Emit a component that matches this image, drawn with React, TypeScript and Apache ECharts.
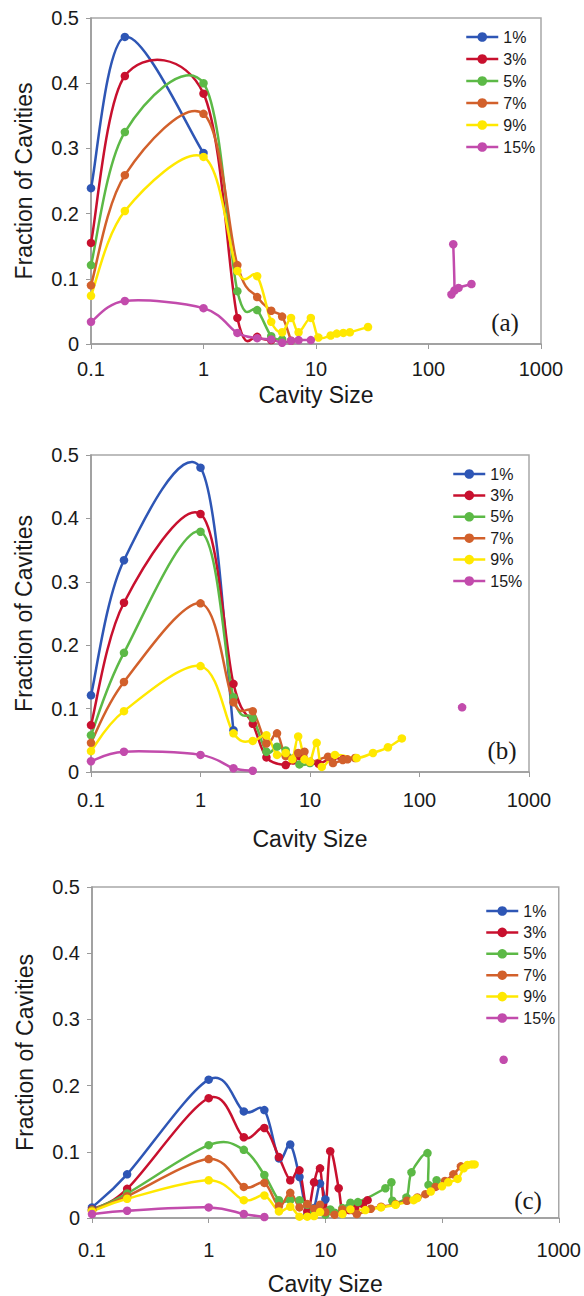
import React, { useEffect, useRef } from 'react';
import * as echarts from 'echarts';

const seriesNames = ['1%', '3%', '5%', '7%', '9%', '15%'];
const colors = ['#2E56B5', '#C8102E', '#5CB946', '#D2602B', '#FFE800', '#C24BAC'];
const xTickLabels = ['0.1', '1', '10', '100', '1000'];
const yTickLabels = ['0', '0.1', '0.2', '0.3', '0.4', '0.5'];
const panelLetters = ['(a)', '(b)', '(c)'];
const xTitle = 'Cavity Size';
const yTitle = 'Fraction of Cavities';

// Panel (a)
const a1 = [[0.1, 0.239], [0.2, 0.471], [1, 0.293]];
const a3 = [[0.1, 0.155], [0.2, 0.411], [1, 0.384], [2, 0.04], [3, 0.011], [4, 0.006]];
const a5 = [[0.1, 0.121], [0.2, 0.325], [1, 0.4], [2, 0.081], [3, 0.052], [4, 0.012], [5, 0.007]];
const a7 = [[0.1, 0.09], [0.2, 0.259], [1, 0.353], [2, 0.121], [3, 0.072], [4, 0.051], [5, 0.042], [6, 0.005]];
const a9 = [[0.1, 0.074], [0.2, 0.204], [1, 0.287], [2, 0.112], [3, 0.104], [4, 0.034], [5, 0.018], [6, 0.04], [7, 0.018], [9, 0.04], [10.5, 0.01], [13.5, 0.013], [15.3, 0.016], [17.5, 0.017], [20, 0.018], [29, 0.026]];
const a15 = [[0.1, 0.034], [0.2, 0.066], [1, 0.055], [2, 0.017], [3, 0.009], [4, 0.007], [5, 0.002], [6, 0.005], [7, 0.006], [9, 0.006], [20, '-'], [166, 0.153], [170, 0.082], [160, 0.076], [185, 0.086], [241, 0.092]];

// Panel (b)
const b1 = [[0.1, 0.121], [0.2, 0.334], [1, 0.48], [2, 0.066]];
const b3 = [[0.1, 0.074], [0.2, 0.267], [1, 0.407], [2, 0.139], [3, 0.076], [4, 0.023], [6, 0.011], [7, 0.018], [8, 0.025], [10, 0.015], [12, 0.013], [16, 0.022], [20, 0.02]];
const b5 = [[0.1, 0.058], [0.2, 0.188], [1, 0.379], [2, 0.118], [3, 0.085], [4, 0.032], [5, 0.04], [6, 0.034], [8, 0.012], [10, 0.014]];
const b7 = [[0.1, 0.046], [0.2, 0.142], [1, 0.266], [2, 0.11], [3, 0.096], [4, 0.045], [5, 0.061], [6, 0.025], [7.8, 0.03], [8.9, 0.032], [10, 0.016], [14.6, 0.024], [16.2, 0.014], [19.9, 0.019], [22, 0.02], [25.8, 0.022]];
const b9 = [[0.1, 0.033], [0.2, 0.096], [1, 0.167], [2, 0.061], [3, 0.049], [4, 0.058], [5, 0.027], [6, 0.03], [6.9, 0.02], [7.8, 0.056], [8.9, 0.02], [10, 0.016], [11.5, 0.046], [12.8, 0.008], [16.9, 0.027], [26.7, 0.022], [37.6, 0.03], [51.5, 0.039], [69, 0.053]];
const b15 = [[0.1, 0.017], [0.2, 0.032], [1, 0.027], [2, 0.006], [3, 0.002], [20, '-'], [245, 0.102]];

// Panel (c)
const c1 = [[0.1, 0.016], [0.2, 0.066], [1, 0.209], [2, 0.161], [3, 0.163], [4, 0.09], [5, 0.111], [6, 0.062], [7, 0.005], [8, 0.015], [9, 0.052], [10, 0.028]];
const c3 = [[0.1, 0.013], [0.2, 0.044], [1, 0.181], [2, 0.122], [3, 0.136], [4, 0.092], [5, 0.057], [6, 0.072], [7, 0.01], [8, 0.054], [9, 0.075], [10, 0.012], [11, 0.101], [13, 0.045], [14, 0.008], [16, 0.012], [18, 0.016], [21, 0.021], [23, 0.027]];
const c5 = [[0.1, 0.012], [0.2, 0.037], [1, 0.11], [2, 0.103], [3, 0.065], [4, 0.027], [5, 0.027], [6, 0.027], [7, 0.02], [8, 0.01], [10, 0.005], [11, 0.013], [12, 0.008], [14, 0.015], [16.4, 0.023], [19, 0.024], [32.7, 0.045], [36.8, 0.054], [37.5, 0.026], [49.5, 0.031], [54.7, 0.069], [75, 0.098], [76.5, 0.05], [89.8, 0.057]];
const c7 = [[0.1, 0.011], [0.2, 0.033], [1, 0.089], [2, 0.047], [3, 0.053], [4, 0.018], [5, 0.038], [6, 0.016], [7, 0.021], [8, 0.014], [9, 0.02], [10, 0.009], [12, 0.005], [14, 0.013], [18.6, 0.006], [24.5, 0.014], [30, 0.017], [40, 0.021], [50, 0.026], [61.5, 0.031], [72, 0.036], [88, 0.047], [106, 0.056], [125, 0.066], [145, 0.078]];
const c9 = [[0.1, 0.01], [0.2, 0.029], [1, 0.057], [2, 0.027], [3, 0.034], [4, 0.01], [5, 0.017], [6, 0.002], [7, 0.002], [8, 0.003], [9, 0.009], [14, 0.006], [16.4, 0.013], [22, 0.012], [30, 0.016], [40, 0.02], [57, 0.027], [61, 0.03], [80, 0.04], [100, 0.048], [113, 0.054], [136, 0.059], [153, 0.075], [165, 0.08], [180, 0.081], [190, 0.081]];
const c15 = [[0.1, 0.006], [0.2, 0.011], [1, 0.016], [2, 0.006], [3, 0.0015], [20, '-'], [337, 0.239]];

const panelData = [
  [a1, a3, a5, a7, a9, a15],
  [b1, b3, b5, b7, b9, b15],
  [c1, c3, c5, c7, c9, c15],
];

const FONT = '"Liberation Sans", Arial, Helvetica, sans-serif';
const SERIF = '"Liberation Serif", "Times New Roman", serif';
const TEXT = '#1a1a1a';
const LINE_W = 2.5;

const layouts = [
  { left: 91, top: 18, right: 43, height: 326, labelMargin: 15, nameGap: 39, legendLeft: 465, legendTop: 29, legendGap: 6, letter: [505, 322] },
  { left: 91, top: 455, right: 55, height: 317, labelMargin: 18, nameGap: 55, legendLeft: 452, legendTop: 466, legendGap: 5.4, letter: [502, 750] },
  { left: 92, top: 887, right: 23, height: 332, labelMargin: 22, nameGap: 54, legendLeft: 485, legendTop: 903, legendGap: 5.4, letter: [528, 1200] },
];

// Excel-style (Catmull-Rom) smoothed segment between point i and i+1
const makeRenderer = (pts: any[], color: string) => (params: any, api: any) => {
  const i = params.dataIndex;
  const valid = (k: number) => k >= 0 && k < pts.length && typeof pts[k][1] === 'number';
  if (!valid(i) || !valid(i + 1)) return null;
  const p1 = api.coord(pts[i]);
  const p2 = api.coord(pts[i + 1]);
  const p0 = valid(i - 1) ? api.coord(pts[i - 1]) : p1;
  const p3 = valid(i + 2) ? api.coord(pts[i + 2]) : p2;
  const t = 1 / 6;
  return {
    type: 'bezierCurve',
    shape: {
      x1: p1[0], y1: p1[1], x2: p2[0], y2: p2[1],
      cpx1: p1[0] + (p2[0] - p0[0]) * t, cpy1: p1[1] + (p2[1] - p0[1]) * t,
      cpx2: p2[0] - (p3[0] - p1[0]) * t, cpy2: p2[1] - (p3[1] - p1[1]) * t,
    },
    style: { stroke: color, lineWidth: LINE_W, fill: 'none', lineCap: 'round' },
  };
};

export default function App() {
  const ref = useRef<HTMLDivElement>(null);
  useEffect(() => {
    if (!ref.current) return;
    const chart = echarts.init(ref.current, null, { renderer: 'svg' });
    const grids: any[] = [];
    const xAxes: any[] = [];
    const yAxes: any[] = [];
    const legends: any[] = [];
    const markerSeries: any[] = [];
    const curveSeries: any[] = [];
    const graphics: any[] = [];
    layouts.forEach((L, p) => {
      grids.push({
        left: L.left, top: L.top, right: L.right, height: L.height,
        show: true, borderColor: '#A8A8A8', borderWidth: 1.5, containLabel: false,
      });
      xAxes.push({
        type: 'log', logBase: 10, min: 0.1, max: 1000, gridIndex: p,
        axisLine: { show: true, lineStyle: { color: '#9A9A9A', width: 1.5 } },
        axisTick: { show: true, length: 5, lineStyle: { color: '#9A9A9A' } },
        splitLine: { show: false },
        minorTick: { show: false },
        axisLabel: {
          fontSize: 20, fontFamily: FONT, color: TEXT, margin: L.labelMargin,
          formatter: (v: number) => xTickLabels[Math.round(Math.log10(v)) + 1] ?? '',
        },
        name: xTitle, nameLocation: 'middle', nameGap: L.nameGap,
        nameTextStyle: { fontSize: 23, fontFamily: FONT, color: TEXT },
      });
      yAxes.push({
        type: 'value', min: 0, max: 0.5, interval: 0.1, gridIndex: p,
        axisLine: { show: true, lineStyle: { color: '#9A9A9A', width: 1.5 } },
        axisTick: { show: true, length: 5, lineStyle: { color: '#9A9A9A' } },
        splitLine: { show: false },
        axisLabel: {
          fontSize: 20, fontFamily: FONT, color: TEXT, margin: 12,
          formatter: (v: number) => yTickLabels[Math.round(v * 10)] ?? '',
        },
        name: yTitle, nameLocation: 'middle', nameGap: 56,
        nameTextStyle: { fontSize: 23, fontFamily: FONT, color: TEXT },
      });
      legends.push({
        orient: 'vertical', left: L.legendLeft, top: L.legendTop,
        itemWidth: 32, itemHeight: 12, itemGap: L.legendGap, padding: 0,
        textStyle: { fontSize: 16, fontFamily: FONT, color: TEXT },
        lineStyle: { opacity: 1, width: LINE_W },
        data: seriesNames,
      });
      panelData[p].forEach((d, i) => {
        markerSeries.push({
          type: 'line', name: seriesNames[i], xAxisIndex: p, yAxisIndex: p,
          data: d, smooth: false, connectNulls: false,
          symbol: 'circle', symbolSize: 8.5, showSymbol: true,
          lineStyle: { color: colors[i], width: LINE_W, opacity: 0 },
          itemStyle: { color: colors[i] },
          emphasis: { disabled: true },
          z: 3 + i * 0.01,
        });
        curveSeries.push({
          type: 'custom', xAxisIndex: p, yAxisIndex: p,
          data: d, encode: { x: 0, y: 1 },
          renderItem: makeRenderer(d, colors[i]),
          silent: true, clip: false,
          z: 2 + i * 0.01,
        });
      });
      graphics.push({
        type: 'text', x: L.letter[0], y: L.letter[1],
        style: { text: panelLetters[p], font: `25px ${SERIF}`, fill: TEXT, textAlign: 'center', textVerticalAlign: 'middle' },
      });
    });
    chart.setOption({
      animation: false,
      grid: grids,
      xAxis: xAxes,
      yAxis: yAxes,
      legend: legends,
      series: [...markerSeries, ...curveSeries],
      graphic: graphics,
    });
    return () => chart.dispose();
  }, []);
  return <div ref={ref} style={{ position: 'absolute', left: 0, top: 0, width: 584, height: 1296, background: '#fff' }} />;
}
